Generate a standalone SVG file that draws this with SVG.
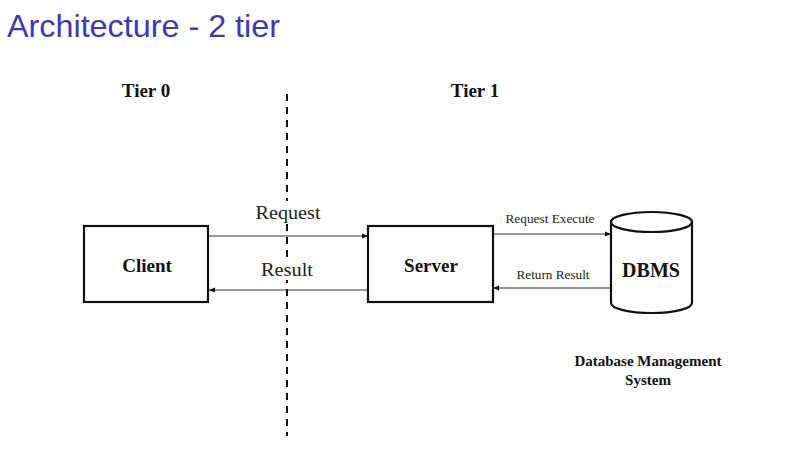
<svg xmlns="http://www.w3.org/2000/svg" width="796" height="471" viewBox="0 0 796 471">
<defs>
<style>
.box{fill:#fff;stroke:#111;stroke-width:2.2}
.lbl{font-family:"Liberation Serif",serif;font-weight:bold;fill:#111;text-anchor:middle}
.edge{stroke:#333;stroke-width:1.2;fill:none}
.etxt{font-family:"Liberation Serif",serif;fill:#222;text-anchor:middle}
.bg{fill:#fff}
</style>
<marker id="ah" viewBox="0 0 10 10" refX="10" refY="5" markerWidth="6" markerHeight="6" orient="auto" markerUnits="userSpaceOnUse">
<path d="M0,1 L10,5 L0,9 Z" fill="#111"/>
</marker>
</defs>
<rect width="796" height="471" fill="#fff"/>
<text x="7" y="37" font-family="Liberation Sans, Arial, sans-serif" font-size="32" fill="#3a3ab8" textLength="273" lengthAdjust="spacingAndGlyphs">Architecture - 2 tier</text>
<text x="146" y="97" class="lbl" font-size="19">Tier 0</text>
<text x="475" y="97" class="lbl" font-size="19">Tier 1</text>
<line id="tier-divider" x1="287" y1="94" x2="287" y2="436" stroke="#111" stroke-width="2" stroke-dasharray="7,6"/>
<g id="connectors">
<rect class="bg" x="254" y="201" width="69" height="22"/>
<rect class="bg" x="259" y="258" width="56" height="22"/>
<line class="edge" x1="209" y1="236" x2="368" y2="236" marker-end="url(#ah)"/>
<text class="etxt" x="288" y="219" font-size="19" textLength="65" lengthAdjust="spacingAndGlyphs">Request</text>
<line class="edge" x1="367" y1="290" x2="209" y2="290" marker-end="url(#ah)"/>
<text class="etxt" x="287" y="276" font-size="19" textLength="52" lengthAdjust="spacingAndGlyphs">Result</text>
<line class="edge" x1="493" y1="234" x2="611" y2="234" marker-end="url(#ah)"/>
<text class="etxt" x="550" y="223" font-size="13" textLength="89" lengthAdjust="spacingAndGlyphs">Request Execute</text>
<line class="edge" x1="610" y1="288" x2="493" y2="288" marker-end="url(#ah)"/>
<text class="etxt" x="553" y="279" font-size="13" textLength="73" lengthAdjust="spacingAndGlyphs">Return Result</text>
</g>
<g id="client">
<rect class="box" x="84" y="226" width="124" height="76"/>
<text class="lbl" x="147" y="272" font-size="19">Client</text>
</g>
<g id="server">
<rect class="box" x="368" y="226" width="125" height="76"/>
<text class="lbl" x="431" y="272" font-size="19">Server</text>
</g>
<g id="dbms">
<path class="box" d="M611,222 L611,303 A40.5,10 0 0 0 692,303 L692,222"/>
<ellipse class="box" cx="651.5" cy="222" rx="40.5" ry="10"/>
<text class="lbl" x="651" y="277" font-size="20">DBMS</text>
<text class="lbl" x="648" y="366" font-size="15">Database Management</text>
<text class="lbl" x="648" y="385" font-size="15">System</text>
</g>
</svg>
